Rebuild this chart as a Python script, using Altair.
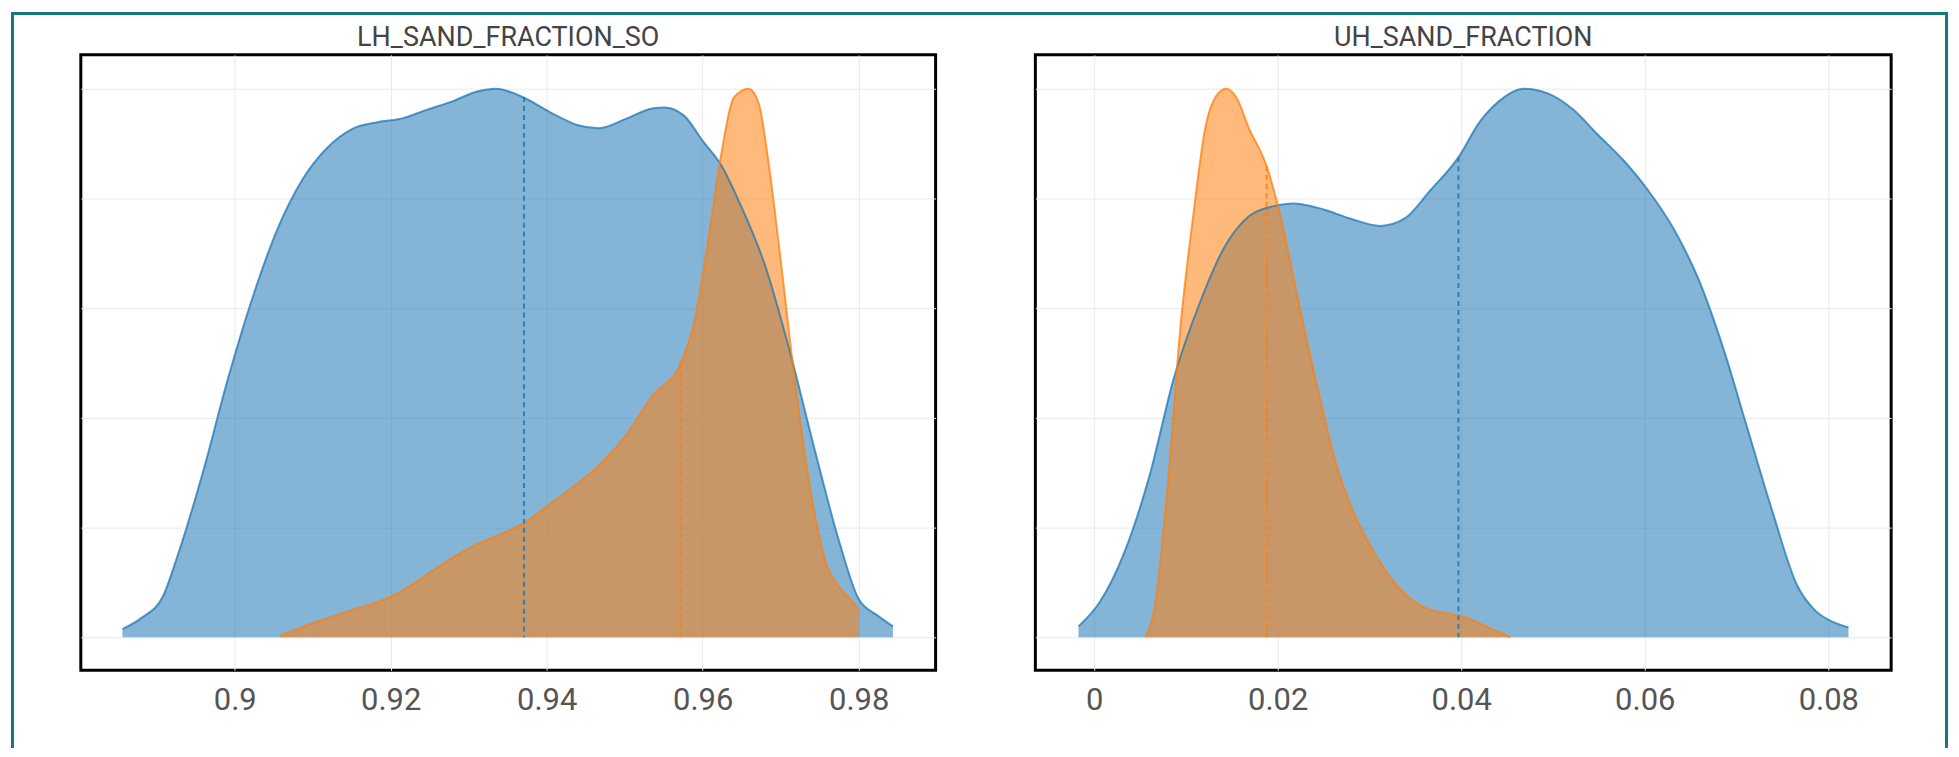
import altair as alt
import pandas as pd

GROUPS = ["Group 1", "Group 2"]
COLORS = ["#1f77b4", "#ff7f0e"]

# ---- LH_SAND_FRACTION_SO (normalised density) ----
LH_BLUE_X = [0.8856, 0.8880, 0.8908, 0.8927, 0.8959, 0.8991, 0.9023, 0.9055, 0.9087, 0.9119,
             0.9151, 0.9183, 0.9215, 0.9247, 0.9279, 0.9311, 0.9335, 0.9369, 0.9407, 0.9439,
             0.9467, 0.9503, 0.9535, 0.9551, 0.9576, 0.9600, 0.9624, 0.9648, 0.9680, 0.9712,
             0.9744, 0.9776, 0.9800, 0.9824, 0.9844]
LH_BLUE_Y = [0.015, 0.035, 0.075, 0.15, 0.30, 0.47, 0.62, 0.745, 0.835, 0.893,
             0.927, 0.939, 0.946, 0.962, 0.977, 0.995, 1.0, 0.985, 0.955, 0.934,
             0.928, 0.946, 0.964, 0.966, 0.951, 0.905, 0.86, 0.79, 0.678, 0.52,
             0.34, 0.17, 0.07, 0.04, 0.02]
LH_ORANGE_X = [0.9058, 0.9087, 0.9119, 0.9151, 0.9183, 0.9215, 0.9247, 0.9279, 0.9311, 0.9343,
               0.9375, 0.9407, 0.9439, 0.9471, 0.9503, 0.9535, 0.9572, 0.9591, 0.9607, 0.9624,
               0.9640, 0.9659, 0.9672, 0.9683, 0.9699, 0.9718, 0.9741, 0.9757, 0.9776, 0.9792,
               0.9800]
LH_ORANGE_Y = [0.002, 0.019, 0.035, 0.05, 0.064, 0.085, 0.115, 0.145, 0.17, 0.189,
               0.212, 0.246, 0.28, 0.319, 0.371, 0.439, 0.50, 0.586, 0.722, 0.882,
               0.984, 1.0, 0.973, 0.88, 0.70, 0.47, 0.245, 0.14, 0.09, 0.065,
               0.05]
LH_MEDIANS = [0.9371, 0.9572]
LH_MEDIAN_H = [0.985, 0.50]
LH_DOMAIN = [0.88026, 0.98987]
LH_TICKS = [0.9, 0.92, 0.94, 0.96, 0.98]

# ---- UH_SAND_FRACTION (normalised density) ----
UH_BLUE_X = [-0.0017, 0.0006, 0.0033, 0.0060, 0.0087, 0.0115, 0.0142, 0.0169, 0.0196, 0.0217,
             0.0250, 0.0278, 0.0312, 0.0339, 0.0366, 0.0397, 0.0420, 0.0441, 0.0468, 0.0495,
             0.0522, 0.0549, 0.0576, 0.0604, 0.0631, 0.0658, 0.0685, 0.0712, 0.0739, 0.0766,
             0.0785, 0.0805, 0.0822]
UH_BLUE_Y = [0.02, 0.064, 0.155, 0.292, 0.473, 0.609, 0.711, 0.768, 0.786, 0.791,
             0.78, 0.764, 0.75, 0.764, 0.814, 0.875, 0.939, 0.977, 1.0, 0.991,
             0.962, 0.916, 0.871, 0.814, 0.746, 0.655, 0.53, 0.38, 0.23, 0.095,
             0.05, 0.028, 0.018]
UH_ORANGE_X = [0.0056, 0.0067, 0.0081, 0.0094, 0.0108, 0.0121, 0.0135, 0.0144, 0.0155, 0.0169,
               0.0188, 0.0203, 0.0223, 0.0244, 0.0264, 0.0284, 0.0305, 0.0332, 0.0359, 0.0386,
               0.0407, 0.0427, 0.0454]
UH_ORANGE_Y = [0.0, 0.064, 0.291, 0.564, 0.768, 0.927, 0.991, 1.0, 0.984, 0.927,
               0.859, 0.768, 0.609, 0.45, 0.314, 0.223, 0.155, 0.09, 0.055, 0.043,
               0.035, 0.02, 0.0]
UH_MEDIANS = [0.0397, 0.0188]
UH_MEDIAN_H = [0.875, 0.859]
UH_DOMAIN = [-0.0064, 0.08685]
UH_TICKS = [0, 0.02, 0.04, 0.06, 0.08]

Y_DOMAIN = [-0.06, 1.0618]
Y_GRID = [0, 0.2, 0.4, 0.6, 0.8, 1.0]
FONT = "Roboto"
TEAL = "#17777f"
PANEL_H = 617


def panel(title, bx, by, ox, oy, medians, med_h, domain, ticks, width, with_border=False):
    df = pd.DataFrame({
        "x": bx + ox,
        "y": by + oy,
        "g": [GROUPS[0]] * len(bx) + [GROUPS[1]] * len(ox),
    })
    mdf = pd.DataFrame({"x": medians, "y": med_h, "g": GROUPS})
    color = alt.Color("g:N", scale=alt.Scale(domain=GROUPS, range=COLORS), legend=None)
    xenc = alt.X("x:Q", scale=alt.Scale(domain=domain, nice=False, zero=False),
                 axis=alt.Axis(values=ticks, title=None, format="~g", ticks=False, tickSize=0,
                               domain=False, grid=True, labelPadding=15, labelFlush=False))
    yenc = alt.Y("y:Q", stack=None, scale=alt.Scale(domain=Y_DOMAIN, nice=False, zero=False),
                 axis=alt.Axis(values=Y_GRID, title=None, labels=False, ticks=False, tickSize=0,
                               domain=False, grid=True, minExtent=0, maxExtent=0))
    base = alt.Chart(df)
    area = base.mark_area(interpolate="monotone", opacity=0.55).encode(
        x=xenc, y=yenc, y2=alt.datum(0), color=color)
    line = base.mark_line(interpolate="monotone", strokeWidth=2, opacity=0.75).encode(
        x="x:Q", y="y:Q", color=color)
    med = alt.Chart(mdf).mark_rule(strokeDash=[5, 4], strokeWidth=2, opacity=0.85).encode(
        x="x:Q", y="y:Q", y2=alt.datum(0), color=color)
    ttl = alt.Chart(alt.Data(values=[{"t": title}])).mark_text(
        font=FONT, fontSize=27, color="#444444", align="center", baseline="alphabetic"
    ).encode(text="t:N", x=alt.value(width / 2), y=alt.value(-9))
    layers = [area, line, med, ttl]
    if with_border:
        b = alt.Chart(alt.Data(values=[{}])).mark_rule(color=TEAL, strokeWidth=3)
        layers += [
            b.encode(x=alt.value(-68.5), y=alt.value(-43), y2=alt.value(695)),
            b.encode(x=alt.value(-70), x2=alt.value(1872), y=alt.value(-41.5)),
            b.encode(x=alt.value(1870.5), y=alt.value(-43), y2=alt.value(695)),
        ]
    return alt.layer(*layers).properties(width=width, height=PANEL_H)


p1 = panel("LH_SAND_FRACTION_SO", LH_BLUE_X, LH_BLUE_Y, LH_ORANGE_X, LH_ORANGE_Y,
           LH_MEDIANS, LH_MEDIAN_H, LH_DOMAIN, LH_TICKS, 857, with_border=True)
p2 = panel("UH_SAND_FRACTION", UH_BLUE_X, UH_BLUE_Y, UH_ORANGE_X, UH_ORANGE_Y,
           UH_MEDIANS, UH_MEDIAN_H, UH_DOMAIN, UH_TICKS, 858)

chart = alt.hconcat(p1, p2, spacing=100, bounds="flush").properties(
    padding=0, background="white"
).configure_view(
    stroke="black", strokeWidth=3
).configure_axis(
    gridColor="#e9e9e9", gridWidth=1, labelFont=FONT, labelFontSize=31, labelColor="#555555"
)

chart.save("out.html", embed_options={"renderer": "svg", "actions": False})
